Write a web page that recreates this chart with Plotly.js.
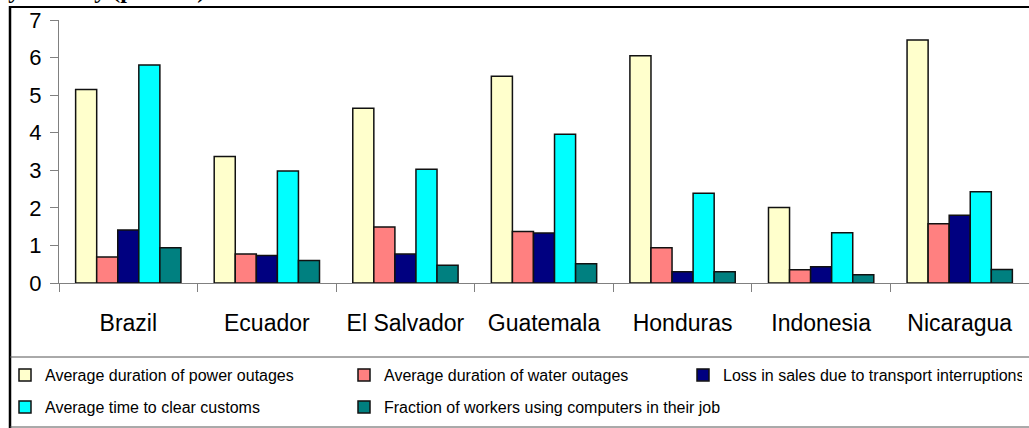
<!DOCTYPE html>
<html>
<head>
<meta charset="utf-8">
<script src="https://cdn.plot.ly/plotly-3.0.1.min.js"></script>
<style>html,body{margin:0;padding:0;background:#fff;}#chart{width:1029px;height:428px;}</style>
</head>
<body>
<div id="chart"></div>
<script>
const countries = ["Brazil", "Ecuador", "El Salvador", "Guatemala", "Honduras", "Indonesia", "Nicaragua"];
const powerOutages = [5.15, 3.37, 4.65, 5.50, 6.05, 2.01, 6.47];
const waterOutages = [0.69, 0.77, 1.49, 1.37, 0.94, 0.35, 1.58];
const transportLoss = [1.41, 0.73, 0.77, 1.33, 0.30, 0.43, 1.80];
const customsTime = [5.80, 2.98, 3.03, 3.96, 2.39, 1.34, 2.43];
const computerWorkers = [0.94, 0.60, 0.47, 0.51, 0.30, 0.22, 0.36];
const seriesNames = [
  "Average duration of power outages",
  "Average duration of water outages",
  "Loss in sales due to transport interruptions",
  "Average time to clear customs",
  "Fraction of workers using computers in their job"
];
const yTicks = [0, 1, 2, 3, 4, 5, 6, 7];

const colors = ["#FFFFCC", "#FF8080", "#000080", "#00FFFF", "#008080"];
const values = [powerOutages, waterOutages, transportLoss, customsTime, computerWorkers];
const legendIds = ["legend", "legend", "legend", "legend2", "legend3"];

const font = "Liberation Sans, Arial, sans-serif";

const traces = values.map((v, i) => ({
  type: "bar",
  name: seriesNames[i],
  x: countries,
  y: v,
  legend: legendIds[i],
  marker: {color: colors[i], line: {color: "#111", width: 1.5}},
  hoverinfo: "x+y+name"
}));

function px2x(px) { return (px - 59) / 970; }
function py2y(py) { return 1 - (py - 20) / 263; }

const legendCommon = {
  orientation: "h", xanchor: "left", yanchor: "top",
  entrywidth: 294, entrywidthmode: "pixels", itemwidth: 30,
  font: {size: 16, family: font, color: "#000"}, bgcolor: "rgba(0,0,0,0)", borderwidth: 0,
  traceorder: "normal"
};

const layout = {
  width: 1029, height: 428,
  margin: {l: 59, r: 0, t: 20, b: 145, pad: 0},
  paper_bgcolor: "#fff", plot_bgcolor: "#fff",
  font: {family: font, color: "#000"},
  bargap: 0.24, bargroupgap: 0,
  showlegend: true,
  xaxis: {
    type: "category",
    showline: true, linecolor: "#808080", linewidth: 1,
    ticks: "outside", tickson: "boundaries", ticklen: 8, tickcolor: "#808080", tickwidth: 1,
    tickfont: {size: 23, family: font, color: "#000"},
    ticklabelstandoff: 19,
    showgrid: false, zeroline: false, fixedrange: true
  },
  yaxis: {
    range: [0, 7], tickvals: yTicks, ticktext: yTicks.map(String),
    showline: true, linecolor: "#808080", linewidth: 1,
    ticks: "outside", ticklen: 8, tickcolor: "#808080", tickwidth: 1,
    tickfont: {size: 22, family: font, color: "#000"},
    ticklabelstandoff: 4,
    showgrid: false, zeroline: false, fixedrange: true
  },
  legend: Object.assign({}, legendCommon, {x: px2x(5), y: py2y(358)}),
  legend2: Object.assign({}, legendCommon, {x: px2x(5), y: py2y(390)}),
  legend3: Object.assign({}, legendCommon, {x: px2x(344), y: py2y(390), entrywidth: 400}),
  shapes: [
    {type: "line", xref: "paper", yref: "paper", x0: px2x(10), x1: px2x(10), y0: py2y(6), y1: py2y(430), line: {color: "#000", width: 2.5}},
    {type: "line", xref: "paper", yref: "paper", x0: px2x(9), x1: px2x(1032), y0: py2y(7), y1: py2y(7), line: {color: "#000", width: 2}},
    {type: "line", xref: "paper", yref: "paper", x0: px2x(10), x1: px2x(1032), y0: py2y(357), y1: py2y(357), line: {color: "#555", width: 1}},
    {type: "line", xref: "paper", yref: "paper", x0: px2x(10), x1: px2x(1032), y0: py2y(427), y1: py2y(427), line: {color: "#555", width: 1}}
  ],
  annotations: [
    {xref: "paper", yref: "paper", x: px2x(206), y: py2y(4), xanchor: "right", yanchor: "bottom",
     text: "<b>by country (percent)</b>", showarrow: false, borderpad: 0,
     font: {family: "Liberation Serif, Times New Roman, serif", size: 24, color: "#000"}}
  ]
};

Plotly.newPlot("chart", traces, layout, {displayModeBar: false, responsive: false});
</script>
</body>
</html>
